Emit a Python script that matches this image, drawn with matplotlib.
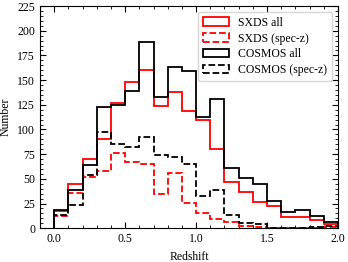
import numpy as np
import matplotlib
matplotlib.use("Agg")
import matplotlib.pyplot as plt
from matplotlib.ticker import MultipleLocator

edges = np.round(np.arange(0.0, 2.01, 0.1), 2)
sxds_all = [17, 45, 70, 90, 127, 148, 160, 124, 138, 119, 110, 80, 47, 37, 27, 22, 11, 11, 8, 4]
sxds_spec = [12, 36, 52, 58, 76, 67, 65, 35, 56, 26, 15, 9, 6, 2.4, 1.7, 0.5, 0.5, 0.5, 0.5, 1]
cosmos_all = [18, 39, 64, 123, 125, 139, 189, 133, 163, 159, 113, 131, 61, 51, 45, 28, 16, 18, 12, 6]
cosmos_spec = [13, 24, 54, 97, 85, 82, 92, 74, 72, 65, 33, 39, 13.5, 5.7, 4.4, 0.7, 0.7, 0.7, 1, 2.4]

plt.rcParams['font.family'] = ['Liberation Serif', 'DejaVu Serif']
plt.rcParams['font.size'] = 8.5

fig = plt.figure(figsize=(3.48, 2.62), dpi=100)
ax = fig.add_axes([0.115, 0.129, 0.856, 0.848])

centers = edges[:-1] + 0.05
ax.hist(centers, bins=edges, weights=sxds_all, histtype='step', color='red', lw=1.3, label='SXDS all')
ax.hist(centers, bins=edges, weights=sxds_spec, histtype='step', color='red', lw=1.3, ls='--', label='SXDS (spec-z)')
ax.hist(centers, bins=edges, weights=cosmos_all, histtype='step', color='black', lw=1.3, label='COSMOS all')
ax.hist(centers, bins=edges, weights=cosmos_spec, histtype='step', color='black', lw=1.3, ls='--', label='COSMOS (spec-z)')

ax.set_xlim(-0.1, 2.0)
ax.set_ylim(0, 225)
ax.xaxis.set_major_locator(MultipleLocator(0.5))
ax.xaxis.set_minor_locator(MultipleLocator(0.1))
ax.yaxis.set_major_locator(MultipleLocator(25))
ax.yaxis.set_minor_locator(MultipleLocator(5))
ax.tick_params(which='both', direction='in', top=True, right=True, labelsize=8.5)
ax.tick_params(which='major', length=4)
ax.tick_params(which='minor', length=2)
ax.set_xlabel('Redshift', fontsize=8.5, labelpad=4)
ax.set_ylabel('Number', fontsize=8.5, labelpad=4)
ax.legend(loc='upper right', fontsize=8.5, handlelength=2.2, borderaxespad=0.5,
          labelspacing=0.33)

fig.savefig('out.png', dpi=100)
